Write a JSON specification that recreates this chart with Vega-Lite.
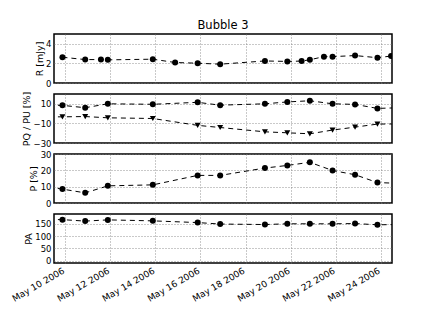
{
  "$schema": "https://vega.github.io/schema/vega-lite/v6.json",
  "padding": {"left": 9, "top": 18, "right": 5, "bottom": 5},
  "spacing": 11,
  "bounds": "flush",
  "config": {
    "font": "DejaVu Sans",
    "view": {"stroke": "black", "strokeWidth": 1.5},
    "axis": {
      "labelFont": "DejaVu Sans", "titleFont": "DejaVu Sans",
      "labelFontSize": 8.5, "titleFontSize": 9.5, "titleFontWeight": "normal",
      "labelColor": "black", "titleColor": "black",
      "domain": false, "ticks": false,
      "gridColor": "#777777", "gridDash": [1, 2], "gridWidth": 0.8, "gridOpacity": 1,
      "labelPadding": 3, "titlePadding": 1.5
    },
    "title": {"font": "DejaVu Sans", "fontSize": 11.5, "fontWeight": "normal", "color": "black", "offset": 3}
  },
  "data": {"values": [
    {"t": "2006-05-09T21:00", "s": "R", "v": 2.63},
    {"t": "2006-05-10T21:15", "s": "R", "v": 2.39},
    {"t": "2006-05-11T14:00", "s": "R", "v": 2.39},
    {"t": "2006-05-11T21:20", "s": "R", "v": 2.36},
    {"t": "2006-05-13T21:15", "s": "R", "v": 2.43},
    {"t": "2006-05-14T21:00", "s": "R", "v": 2.09},
    {"t": "2006-05-15T21:00", "s": "R", "v": 2.02},
    {"t": "2006-05-16T21:00", "s": "R", "v": 1.92},
    {"t": "2006-05-18T20:40", "s": "R", "v": 2.25},
    {"t": "2006-05-19T20:30", "s": "R", "v": 2.2},
    {"t": "2006-05-20T11:45", "s": "R", "v": 2.24},
    {"t": "2006-05-20T20:30", "s": "R", "v": 2.37},
    {"t": "2006-05-21T11:30", "s": "R", "v": 2.69},
    {"t": "2006-05-21T20:40", "s": "R", "v": 2.69},
    {"t": "2006-05-22T20:40", "s": "R", "v": 2.8},
    {"t": "2006-05-23T20:30", "s": "R", "v": 2.58},
    {"t": "2006-05-24T11:00", "s": "R", "v": 2.75},

    {"t": "2006-05-08T21:00", "s": "PQ", "v": 8.6},
    {"t": "2006-05-09T21:00", "s": "PQ", "v": 8.4},
    {"t": "2006-05-10T21:15", "s": "PQ", "v": 6.0},
    {"t": "2006-05-11T21:20", "s": "PQ", "v": 10.0},
    {"t": "2006-05-13T21:15", "s": "PQ", "v": 9.5},
    {"t": "2006-05-15T21:00", "s": "PQ", "v": 11.5},
    {"t": "2006-05-16T21:00", "s": "PQ", "v": 8.6},
    {"t": "2006-05-18T20:40", "s": "PQ", "v": 10.0},
    {"t": "2006-05-19T20:30", "s": "PQ", "v": 11.9},
    {"t": "2006-05-20T20:30", "s": "PQ", "v": 13.1},
    {"t": "2006-05-21T20:40", "s": "PQ", "v": 10.0},
    {"t": "2006-05-22T20:40", "s": "PQ", "v": 9.4},
    {"t": "2006-05-23T20:30", "s": "PQ", "v": 5.3},
    {"t": "2006-05-24T21:00", "s": "PQ", "v": 6.0},

    {"t": "2006-05-08T21:00", "s": "PU", "v": -3.3},
    {"t": "2006-05-09T21:00", "s": "PU", "v": -3.3},
    {"t": "2006-05-10T21:15", "s": "PU", "v": -3.0},
    {"t": "2006-05-11T21:20", "s": "PU", "v": -4.3},
    {"t": "2006-05-13T21:15", "s": "PU", "v": -5.0},
    {"t": "2006-05-15T21:00", "s": "PU", "v": -12.0},
    {"t": "2006-05-16T21:00", "s": "PU", "v": -14.2},
    {"t": "2006-05-18T20:40", "s": "PU", "v": -18.6},
    {"t": "2006-05-19T20:30", "s": "PU", "v": -19.6},
    {"t": "2006-05-20T20:30", "s": "PU", "v": -20.6},
    {"t": "2006-05-21T20:40", "s": "PU", "v": -16.8},
    {"t": "2006-05-22T20:40", "s": "PU", "v": -13.8},
    {"t": "2006-05-23T20:30", "s": "PU", "v": -10.7},
    {"t": "2006-05-24T21:00", "s": "PU", "v": -10.5},

    {"t": "2006-05-08T21:00", "s": "P", "v": 10.5},
    {"t": "2006-05-09T21:00", "s": "P", "v": 8.5},
    {"t": "2006-05-10T21:15", "s": "P", "v": 6.2},
    {"t": "2006-05-11T21:20", "s": "P", "v": 10.5},
    {"t": "2006-05-13T21:15", "s": "P", "v": 11.1},
    {"t": "2006-05-15T21:00", "s": "P", "v": 16.9},
    {"t": "2006-05-16T21:00", "s": "P", "v": 16.9},
    {"t": "2006-05-18T20:40", "s": "P", "v": 21.4},
    {"t": "2006-05-19T20:30", "s": "P", "v": 23.0},
    {"t": "2006-05-20T20:30", "s": "P", "v": 24.9},
    {"t": "2006-05-21T20:40", "s": "P", "v": 19.9},
    {"t": "2006-05-22T20:40", "s": "P", "v": 17.3},
    {"t": "2006-05-23T20:30", "s": "P", "v": 12.5},
    {"t": "2006-05-24T21:00", "s": "P", "v": 12.0},

    {"t": "2006-05-08T21:00", "s": "PA", "v": 168},
    {"t": "2006-05-09T21:00", "s": "PA", "v": 167},
    {"t": "2006-05-10T21:15", "s": "PA", "v": 161},
    {"t": "2006-05-11T21:20", "s": "PA", "v": 166},
    {"t": "2006-05-13T21:15", "s": "PA", "v": 162},
    {"t": "2006-05-15T21:00", "s": "PA", "v": 155},
    {"t": "2006-05-16T21:00", "s": "PA", "v": 149},
    {"t": "2006-05-18T20:40", "s": "PA", "v": 147},
    {"t": "2006-05-19T20:30", "s": "PA", "v": 150},
    {"t": "2006-05-20T20:30", "s": "PA", "v": 150},
    {"t": "2006-05-21T20:40", "s": "PA", "v": 150},
    {"t": "2006-05-22T20:40", "s": "PA", "v": 151},
    {"t": "2006-05-23T20:30", "s": "PA", "v": 146},
    {"t": "2006-05-24T21:00", "s": "PA", "v": 147}
  ]},
  "vconcat": [
    {
      "width": 338, "height": 49,
      "title": {"text": "Bubble 3"},
      "transform": [{"filter": "datum.s === 'R'"}],
      "encoding": {
        "x": {"field": "t", "type": "temporal",
          "scale": {"domain": [{"year": 2006, "month": 5, "date": 9, "hours": 12}, {"year": 2006, "month": 5, "date": 24, "hours": 12}]},
          "axis": {"values": [{"year": 2006, "month": 5, "date": 10}, {"year": 2006, "month": 5, "date": 12}, {"year": 2006, "month": 5, "date": 14}, {"year": 2006, "month": 5, "date": 16}, {"year": 2006, "month": 5, "date": 18}, {"year": 2006, "month": 5, "date": 20}, {"year": 2006, "month": 5, "date": 22}, {"year": 2006, "month": 5, "date": 24}], "labels": false, "title": null}},
        "y": {"field": "v", "type": "quantitative", "scale": {"domain": [0, 5], "nice": false, "zero": false},
          "axis": {"values": [0, 2, 4], "title": "R [mJy]"}}
      },
      "layer": [
        {"mark": {"type": "line", "color": "black", "strokeDash": [5, 4], "strokeWidth": 1, "clip": true}},
        {"mark": {"type": "point", "filled": true, "color": "black", "opacity": 1, "size": 36, "clip": true}}
      ]
    },
    {
      "width": 338, "height": 49,
      "transform": [{"filter": "datum.s === 'PQ' || datum.s === 'PU'"}],
      "encoding": {
        "x": {"field": "t", "type": "temporal",
          "scale": {"domain": [{"year": 2006, "month": 5, "date": 9, "hours": 12}, {"year": 2006, "month": 5, "date": 24, "hours": 12}]},
          "axis": {"values": [{"year": 2006, "month": 5, "date": 10}, {"year": 2006, "month": 5, "date": 12}, {"year": 2006, "month": 5, "date": 14}, {"year": 2006, "month": 5, "date": 16}, {"year": 2006, "month": 5, "date": 18}, {"year": 2006, "month": 5, "date": 20}, {"year": 2006, "month": 5, "date": 22}, {"year": 2006, "month": 5, "date": 24}], "labels": false, "title": null}},
        "y": {"field": "v", "type": "quantitative", "scale": {"domain": [-30, 20], "nice": false, "zero": false},
          "axis": {"values": [-30, -10, 10], "title": "PQ / PU [%]"}}
      },
      "layer": [
        {"mark": {"type": "line", "color": "black", "strokeDash": [5, 4], "strokeWidth": 1, "clip": true},
         "encoding": {"detail": {"field": "s"}}},
        {"mark": {"type": "point", "filled": true, "color": "black", "opacity": 1, "size": 36, "clip": true},
         "encoding": {"shape": {"field": "s", "scale": {"domain": ["PQ", "PU"], "range": ["circle", "triangle-down"]}, "legend": null}}}
      ]
    },
    {
      "width": 338, "height": 49,
      "transform": [{"filter": "datum.s === 'P'"}],
      "encoding": {
        "x": {"field": "t", "type": "temporal",
          "scale": {"domain": [{"year": 2006, "month": 5, "date": 9, "hours": 12}, {"year": 2006, "month": 5, "date": 24, "hours": 12}]},
          "axis": {"values": [{"year": 2006, "month": 5, "date": 10}, {"year": 2006, "month": 5, "date": 12}, {"year": 2006, "month": 5, "date": 14}, {"year": 2006, "month": 5, "date": 16}, {"year": 2006, "month": 5, "date": 18}, {"year": 2006, "month": 5, "date": 20}, {"year": 2006, "month": 5, "date": 22}, {"year": 2006, "month": 5, "date": 24}], "labels": false, "title": null}},
        "y": {"field": "v", "type": "quantitative", "scale": {"domain": [0, 30], "nice": false, "zero": false},
          "axis": {"values": [0, 10, 20, 30], "title": "P [%]"}}
      },
      "layer": [
        {"mark": {"type": "line", "color": "black", "strokeDash": [5, 4], "strokeWidth": 1, "clip": true}},
        {"mark": {"type": "point", "filled": true, "color": "black", "opacity": 1, "size": 36, "clip": true}}
      ]
    },
    {
      "width": 338, "height": 49,
      "transform": [{"filter": "datum.s === 'PA'"}],
      "encoding": {
        "x": {"field": "t", "type": "temporal",
          "scale": {"domain": [{"year": 2006, "month": 5, "date": 9, "hours": 12}, {"year": 2006, "month": 5, "date": 24, "hours": 12}]},
          "axis": {"values": [{"year": 2006, "month": 5, "date": 10}, {"year": 2006, "month": 5, "date": 12}, {"year": 2006, "month": 5, "date": 14}, {"year": 2006, "month": 5, "date": 16}, {"year": 2006, "month": 5, "date": 18}, {"year": 2006, "month": 5, "date": 20}, {"year": 2006, "month": 5, "date": 22}, {"year": 2006, "month": 5, "date": 24}], "format": "%b %d %Y", "labelAngle": -30, "labelAlign": "right", "labelBaseline": "top", "labelOverlap": false, "labelFlush": false, "labelBound": false, "labelOffset": -4, "labelFontSize": 9, "title": null}},
        "y": {"field": "v", "type": "quantitative", "scale": {"domain": [-10, 190], "nice": false, "zero": false},
          "axis": {"values": [0, 50, 100, 150], "title": "PA"}}
      },
      "layer": [
        {"mark": {"type": "line", "color": "black", "strokeDash": [5, 4], "strokeWidth": 1, "clip": true}},
        {"mark": {"type": "point", "filled": true, "color": "black", "opacity": 1, "size": 36, "clip": true}}
      ]
    }
  ]
}
